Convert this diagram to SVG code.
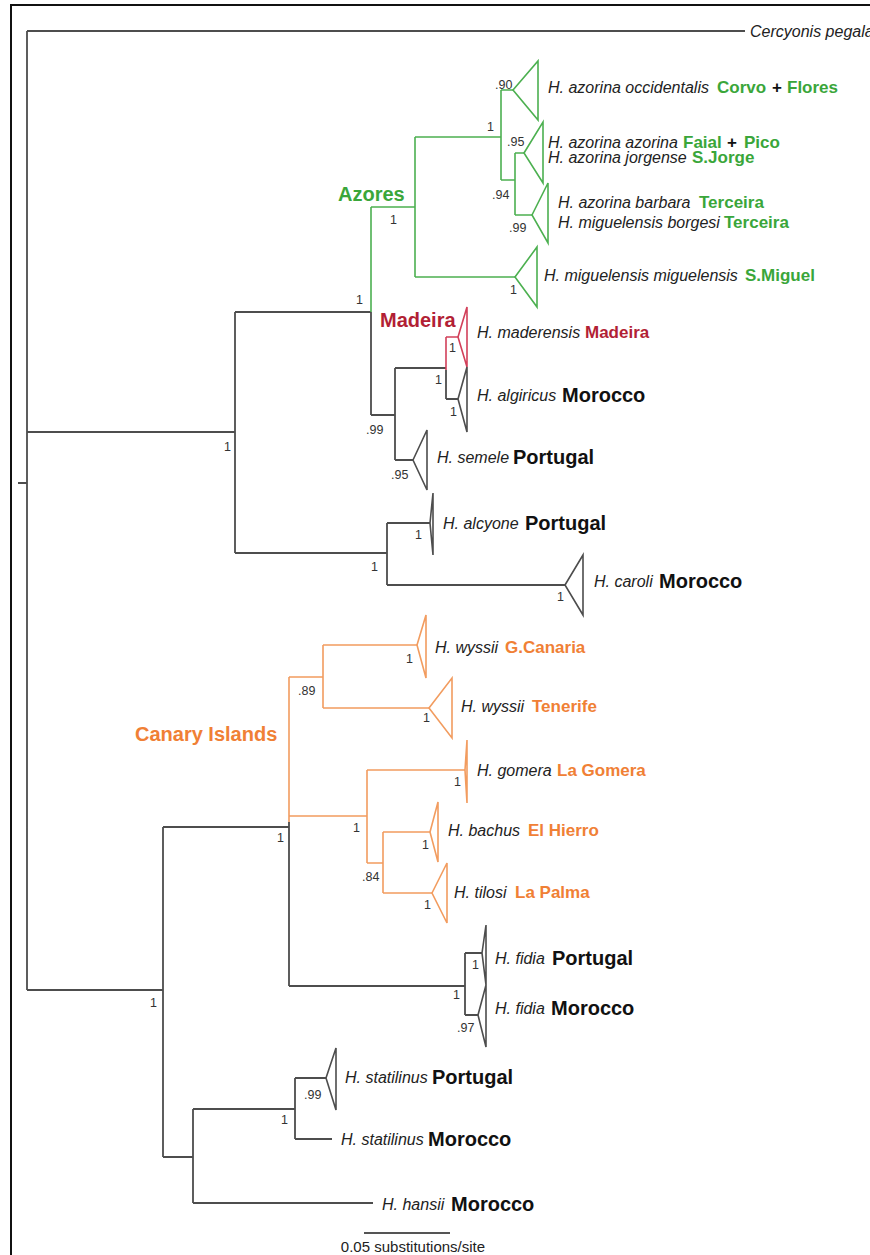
<svg xmlns="http://www.w3.org/2000/svg" width="870" height="1255" viewBox="0 0 870 1255">
<style>
text{font-family:"Liberation Sans",Arial,sans-serif;}
.i{font-style:italic;font-size:16px;fill:#222;}
.cb{font-weight:bold;font-size:20px;fill:#111;}
.g{font-weight:bold;font-size:17px;fill:#3aa63a;}
.o{font-weight:bold;font-size:17px;fill:#f08035;}
.r{font-weight:bold;font-size:17px;fill:#b21f35;}
.pl{font-weight:bold;font-size:17px;fill:#111;}
.cl{font-weight:bold;font-size:20px;}
.s{font-size:12.5px;fill:#333;}
.br{fill:none;stroke:#4d4d4d;stroke-width:1.8;}
.brg{fill:none;stroke:#4cb050;stroke-width:1.6;}
.bro{fill:none;stroke:#f29c5f;stroke-width:1.6;}
.brr{fill:none;stroke:#d2405a;stroke-width:1.6;}
.tk{fill:#fff;stroke:#4d4d4d;stroke-width:1.6;}
.tg{fill:#fff;stroke:#4cb050;stroke-width:1.6;}
.to{fill:#fff;stroke:#f29c5f;stroke-width:1.6;}
.tr{fill:#fff;stroke:#d2405a;stroke-width:1.6;}
</style>
<rect x="0" y="0" width="870" height="1255" fill="#fff"/>
<path d="M11,1255 V5 H870" fill="none" stroke="#111" stroke-width="2"/>

<g id="connectors">
  <path class="br" d="M27,31 H745 M27,31 V990 M18,483 H27
    M27,432 H235 M235,312 V553 M235,312 H371 M371,312 V415 M371,415 H395
    M395,368 V460 M395,368 H446 M446,370 V399 M446,399 H458 M395,460 H413
    M235,553 H387 M387,523 V585 M387,523 H430 M387,585 H565
    M27,990 H163 M163,827 V1157 M163,827 H289 M289,822 V986 M289,986 H465
    M465,953 V1015 M465,953 H482 M465,1015 H478
    M163,1157 H193 M193,1109 V1203 M193,1109 H295 M193,1203 H373
    M295,1078 V1139 M295,1078 H326 M295,1139 H332"/>
  <path class="brg" d="M371,207 V312 M371,207 H415 M415,137 V277 M415,137 H501
    M501,90 V180 M501,90 H513 M501,180 H515 M515,153 V215 M515,153 H524 M515,215 H532 M415,277 H515"/>
  <path class="brr" d="M446,337 V370 M446,337 H458"/>
  <path class="bro" d="M289,677 V822 M289,677 H323 M323,645 V708 M323,645 H417 M323,708 H429
    M289,816 H367 M367,770 V863 M367,770 H465 M367,863 H383 M383,832 V893 M383,832 H430 M383,893 H432"/>
</g>

<g id="support">
  <text class="s" x="495" y="89">.90</text>
  <text class="s" x="487" y="131">1</text>
  <text class="s" x="507" y="146">.95</text>
  <text class="s" x="492" y="199">.94</text>
  <text class="s" x="509" y="232">.99</text>
  <text class="s" x="510" y="294">1</text>
  <text class="s" x="390" y="224">1</text>
  <text class="s" x="356" y="304">1</text>
  <text class="s" x="449" y="352">1</text>
  <text class="s" x="435" y="384">1</text>
  <text class="s" x="450" y="416">1</text>
  <text class="s" x="366" y="434">.99</text>
  <text class="s" x="391" y="479">.95</text>
  <text class="s" x="224" y="451">1</text>
  <text class="s" x="415" y="539">1</text>
  <text class="s" x="371" y="571">1</text>
  <text class="s" x="557" y="601">1</text>
  <text class="s" x="406" y="663">1</text>
  <text class="s" x="298" y="695">.89</text>
  <text class="s" x="423" y="722">1</text>
  <text class="s" x="454" y="786">1</text>
  <text class="s" x="353" y="832">1</text>
  <text class="s" x="422" y="849">1</text>
  <text class="s" x="277" y="842">1</text>
  <text class="s" x="362" y="881">.84</text>
  <text class="s" x="424" y="909">1</text>
  <text class="s" x="472" y="969">1</text>
  <text class="s" x="453" y="999">1</text>
  <text class="s" x="457" y="1032">.97</text>
  <text class="s" x="150" y="1007">1</text>
  <text class="s" x="304" y="1099">.99</text>
  <text class="s" x="281" y="1124">1</text>
</g>

<g id="clade-labels">
  <text class="cl" x="338" y="201" fill="#3aa63a">Azores</text>
  <text class="cl" x="380" y="327" fill="#b21f35">Madeira</text>
  <text class="cl" x="135" y="741" fill="#f08035">Canary Islands</text>
</g>

<g id="n-cercyonis"><text class="i" x="750" y="37">Cercyonis pegala</text></g>

<g id="n-occidentalis">
  <path class="tg" d="M513,90 L538,61 L538,120 Z"/>
  <text class="i" x="548" y="93">H. azorina occidentalis</text>
  <text class="g" x="717" y="93">Corvo</text><text class="pl" x="772" y="93">+</text><text class="g" x="787" y="93">Flores</text>
</g>
<g id="n-azorina-jorgense">
  <path class="tg" d="M524,153 L543,122 L543,183 Z"/>
  <text class="i" x="548" y="148">H. azorina azorina</text>
  <text class="g" x="683" y="148">Faial</text><text class="pl" x="727" y="148">+</text><text class="g" x="744" y="148">Pico</text>
  <text class="i" x="548" y="163">H. azorina jorgense</text>
  <text class="g" x="692" y="163">S.Jorge</text>
</g>
<g id="n-terceira">
  <path class="tg" d="M532,215 L548,183 L548,243 Z"/>
  <text class="i" x="558" y="208">H. azorina barbara</text>
  <text class="g" x="699" y="208">Terceira</text>
  <text class="i" x="558" y="228">H. miguelensis borgesi</text>
  <text class="g" x="724" y="228">Terceira</text>
</g>
<g id="n-smiguel">
  <path class="tg" d="M515,277 L537,247 L537,307 Z"/>
  <text class="i" x="544" y="281">H. miguelensis miguelensis</text>
  <text class="g" x="745" y="281">S.Miguel</text>
</g>
<g id="n-maderensis">
  <path class="tr" d="M458,337 L467,307 L467,367 Z"/>
  <text class="i" x="477" y="338">H. maderensis</text>
  <text class="r" x="585" y="338">Madeira</text>
</g>
<g id="n-algiricus">
  <path class="tk" d="M458,399 L467,367 L467,432 Z"/>
  <text class="i" x="477" y="401">H. algiricus</text>
  <text class="cb" x="562" y="402">Morocco</text>
</g>
<g id="n-semele">
  <path class="tk" d="M413,460 L427,430 L427,490 Z"/>
  <text class="i" x="437" y="463">H. semele</text>
  <text class="cb" x="513" y="464">Portugal</text>
</g>
<g id="n-alcyone">
  <path class="tk" d="M430,523 L433,493 L433,555 Z"/>
  <text class="i" x="443" y="529">H. alcyone</text>
  <text class="cb" x="525" y="530">Portugal</text>
</g>
<g id="n-caroli">
  <path class="tk" d="M565,585 L583,555 L583,615 Z"/>
  <text class="i" x="594" y="587">H. caroli</text>
  <text class="cb" x="659" y="588">Morocco</text>
</g>
<g id="n-gcanaria">
  <path class="to" d="M417,645 L426,615 L426,678 Z"/>
  <text class="i" x="435" y="653">H. wyssii</text>
  <text class="o" x="505" y="653">G.Canaria</text>
</g>
<g id="n-tenerife">
  <path class="to" d="M429,708 L452,678 L452,738 Z"/>
  <text class="i" x="461" y="712">H. wyssii</text>
  <text class="o" x="532" y="712">Tenerife</text>
</g>
<g id="n-gomera">
  <path class="to" stroke-width="2.6" d="M465,770 L467,740 L467,803 Z"/>
  <text class="i" x="477" y="776">H. gomera</text>
  <text class="o" x="557" y="776">La Gomera</text>
</g>
<g id="n-bachus">
  <path class="to" d="M430,832 L438,802 L438,862 Z"/>
  <text class="i" x="448" y="836">H. bachus</text>
  <text class="o" x="528" y="836">El Hierro</text>
</g>
<g id="n-tilosi">
  <path class="to" d="M432,893 L447,863 L447,923 Z"/>
  <text class="i" x="454" y="898">H. tilosi</text>
  <text class="o" x="515" y="898">La Palma</text>
</g>
<g id="n-fidia-portugal">
  <path class="tk" d="M482,953 L486,925 L486,985 Z"/>
  <text class="i" x="495" y="964">H. fidia</text>
  <text class="cb" x="552" y="965">Portugal</text>
</g>
<g id="n-fidia-morocco">
  <path class="tk" d="M478,1015 L486,985 L486,1047 Z"/>
  <text class="i" x="495" y="1014">H. fidia</text>
  <text class="cb" x="551" y="1015">Morocco</text>
</g>
<g id="n-statilinus-portugal">
  <path class="tk" d="M326,1078 L336,1048 L336,1110 Z"/>
  <text class="i" x="345" y="1083">H. statilinus</text>
  <text class="cb" x="432" y="1084">Portugal</text>
</g>
<g id="n-statilinus-morocco">
  <text class="i" x="341" y="1145">H. statilinus</text>
  <text class="cb" x="428" y="1146">Morocco</text>
</g>
<g id="n-hansii">
  <text class="i" x="382" y="1210">H. hansii</text>
  <text class="cb" x="451" y="1211">Morocco</text>
</g>

<g id="scale">
  <path d="M364,1233 H450" stroke="#555" stroke-width="1.8"/>
  <text x="413" y="1252" font-size="15" fill="#222" text-anchor="middle">0.05 substitutions/site</text>
</g>
</svg>
